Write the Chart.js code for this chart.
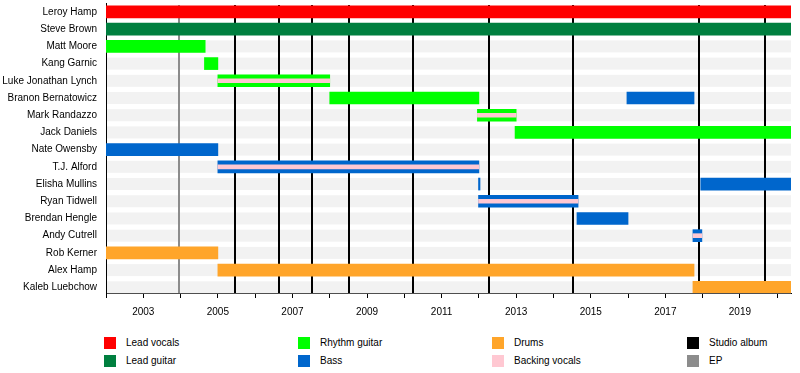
<!DOCTYPE html>
<html>
<head>
<meta charset="utf-8">
<title>Band members timeline</title>
<script src="https://cdn.jsdelivr.net/npm/chart.js@4"></script>
<style>
    body { margin: 0; background: #fff; font-family: "Liberation Sans", Arial, sans-serif; }
    #wrap { position: relative; width: 800px; height: 373px; overflow: hidden; }
    #chart-box { position: absolute; left: 0; top: 0; width: 800px; height: 325px; }
    .legend-item { position: absolute; height: 12px; font-size: 10px; line-height: 12px; color: #000; }
    .legend-item .sw { position: absolute; left: 0; top: 0; width: 12px; height: 12px; }
    .legend-item .lb { position: absolute; left: 22px; top: 0; white-space: nowrap; }
</style>
</head>
<body>
<div id="wrap">
    <div id="chart-box"><canvas id="timeline"></canvas></div>
    <div id="legend"></div>
</div>
<script>
// --- Data ---
const members = [
    'Leroy Hamp', 'Steve Brown', 'Matt Moore', 'Kang Garnic', 'Luke Jonathan Lynch',
    'Branon Bernatowicz', 'Mark Randazzo', 'Jack Daniels', 'Nate Owensby', 'T.J. Alford',
    'Elisha Mullins', 'Ryan Tidwell', 'Brendan Hengle', 'Andy Cutrell', 'Rob Kerner',
    'Alex Hamp', 'Kaleb Luebchow'
];

const START_YEAR = 2002;
const END_YEAR = 2020.37;   // timeline runs up to the date the chart was made

// [member, from, to] in decimal years
const leadVocals = [['Leroy Hamp', 2002, END_YEAR]];
const leadGuitar = [['Steve Brown', 2002, END_YEAR]];
const rhythmGuitar = [
    ['Matt Moore', 2002, 2004.66],
    ['Kang Garnic', 2004.64, 2005.0],
    ['Luke Jonathan Lynch', 2005.0, 2008.0],
    ['Branon Bernatowicz', 2008.0, 2012.0],
    ['Mark Randazzo', 2011.96, 2013.0],
    ['Jack Daniels', 2012.97, END_YEAR]
];
const bass = [
    ['Nate Owensby', 2002, 2005.0],
    ['T.J. Alford', 2005.0, 2012.0],
    ['Elisha Mullins', 2011.99, 2012.03],
    ['Ryan Tidwell', 2011.99, 2014.66],
    ['Brendan Hengle', 2014.63, 2016.0],
    ['Branon Bernatowicz', 2015.97, 2017.77],
    ['Andy Cutrell', 2017.74, 2017.98],
    ['Elisha Mullins', 2017.95, END_YEAR]
];
const drums = [
    ['Rob Kerner', 2002, 2005.0],
    ['Alex Hamp', 2005.0, 2017.77],
    ['Kaleb Luebchow', 2017.74, END_YEAR]
];
const backingVocals = [
    ['Luke Jonathan Lynch', 2005.0, 2008.0],
    ['Mark Randazzo', 2011.96, 2013.0],
    ['T.J. Alford', 2005.0, 2012.0],
    ['Ryan Tidwell', 2011.99, 2014.66],
    ['Andy Cutrell', 2017.74, 2017.98]
];

const studioAlbums = [2005.47, 2006.65, 2007.53, 2008.52, 2010.24, 2012.28, 2014.53, 2017.91, 2019.68];
const eps = [2003.97];

// --- Styles ---
const COLORS = {
    leadVocals: '#ff0000',
    leadGuitar: '#007f3f',
    rhythmGuitar: '#00ff00',
    bass: '#0066cc',
    drums: '#ffa52a',
    backingVocals: '#ffc8d2',
    studioAlbum: '#000000',
    ep: '#8c8c8c',
    stripe: '#f2f2f2'
};

const toBars = rows => rows.map(([name, from, to]) => ({ x: [from, to], y: members.indexOf(name) }));

const roleDataset = (label, rows, color, thickness, order) => ({
    label: label,
    data: toBars(rows),
    backgroundColor: color,
    borderWidth: 0,
    borderSkipped: false,
    barThickness: thickness,
    grouped: false,
    order: order
});

// row stripes + release lines, drawn behind the bars
const timelineBackdrop = {
    id: 'timelineBackdrop',
    beforeDatasetsDraw(chart) {
        const { ctx, chartArea, scales: { x, y } } = chart;
        ctx.save();
        ctx.fillStyle = COLORS.stripe;
        members.forEach((m, i) => {
            const cy = y.getPixelForValue(i);
            ctx.fillRect(chartArea.left + 1, cy - 6, chartArea.width - 1, 12);
        });
        const drawLines = (years, color) => {
            ctx.strokeStyle = color;
            ctx.lineWidth = 2;
            years.forEach(yr => {
                const px = Math.round(x.getPixelForValue(yr));
                ctx.beginPath();
                ctx.moveTo(px, chartArea.top + 2);
                ctx.lineTo(px, chartArea.bottom);
                ctx.stroke();
            });
        };
        drawLines(eps, COLORS.ep);
        drawLines(studioAlbums, COLORS.studioAlbum);
        ctx.restore();
    }
};

const ctx = document.getElementById('timeline').getContext('2d');
new Chart(ctx, {
    type: 'bar',
    data: {
        datasets: [
            roleDataset('Backing vocals', backingVocals, COLORS.backingVocals, 4, 0),
            roleDataset('Lead vocals', leadVocals, COLORS.leadVocals, 12, 1),
            roleDataset('Lead guitar', leadGuitar, COLORS.leadGuitar, 12, 1),
            roleDataset('Rhythm guitar', rhythmGuitar, COLORS.rhythmGuitar, 12, 1),
            roleDataset('Bass', bass, COLORS.bass, 12, 1),
            roleDataset('Drums', drums, COLORS.drums, 12, 1)
        ]
    },
    options: {
        indexAxis: 'y',
        responsive: true,
        maintainAspectRatio: false,
        animation: false,
        layout: { padding: { top: 3, right: 9, left: 0, bottom: 0 } },
        plugins: {
            legend: { display: false },
            tooltip: { enabled: true }
        },
        scales: {
            x: {
                type: 'linear',
                position: 'bottom',
                bounds: 'data',
                offset: false,
                min: START_YEAR,
                max: END_YEAR,
                grid: { display: true, drawOnChartArea: false, drawTicks: true, tickLength: 5, color: '#000' },
                border: { display: true, color: '#000', width: 1 },
                ticks: {
                    stepSize: 1,
                    includeBounds: false,
                    autoSkip: false,
                    maxRotation: 0,
                    padding: 8,
                    color: '#000',
                    font: { family: '"Liberation Sans", Arial, sans-serif', size: 10 },
                    callback: v => (v % 2 === 1 ? String(v) : '')
                },
                afterFit(scale) {
                    scale.height = 32;
                    scale.paddingLeft = 0;
                    scale.paddingRight = 0;
                }
            },
            y: {
                type: 'linear',
                reverse: true,
                bounds: 'data',
                offset: false,
                min: -0.52,
                max: 16.33,
                grid: { display: false, drawTicks: false, offset: false },
                border: { display: true, color: '#000', width: 1 },
                ticks: {
                    autoSkip: false,
                    padding: 9,
                    color: '#000',
                    font: { family: '"Liberation Sans", Arial, sans-serif', size: 10 },
                    callback: v => members[v] || ''
                },
                // one tick per member row
                afterBuildTicks(scale) {
                    scale.ticks = members.map((m, i) => ({ value: i }));
                },
                afterFit(scale) {
                    scale.width = 106;
                    scale.paddingTop = 0;
                    scale.paddingBottom = 0;
                }
            }
        }
    },
    plugins: [timelineBackdrop]
});

// --- Legend (4 columns, 2 rows) ---
const legendEntries = [
    ['Lead vocals', COLORS.leadVocals], ['Lead guitar', COLORS.leadGuitar],
    ['Rhythm guitar', COLORS.rhythmGuitar], ['Bass', COLORS.bass],
    ['Drums', COLORS.drums], ['Backing vocals', COLORS.backingVocals],
    ['Studio album', COLORS.studioAlbum], ['EP', COLORS.ep]
];
const legendCols = [104, 298, 492, 687];
const legendRows = [337, 355];
const legendBox = document.getElementById('legend');
legendEntries.forEach(([label, color], i) => {
    const item = document.createElement('div');
    item.className = 'legend-item';
    item.style.left = legendCols[Math.floor(i / 2)] + 'px';
    item.style.top = legendRows[i % 2] + 'px';
    item.innerHTML = `<span class="sw" style="background:${color}"></span><span class="lb">${label}</span>`;
    legendBox.appendChild(item);
});
</script>
</body>
</html>
